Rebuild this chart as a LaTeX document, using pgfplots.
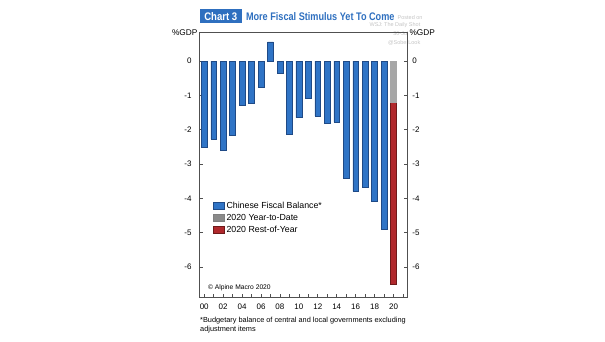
\documentclass[border=0pt]{standalone}
\usepackage{fontspec}
\setmainfont{Liberation Sans}
\usepackage{pgfplots}
\usepackage{pgfplotstable}
\pgfplotsset{compat=1.18}
\definecolor{barblue}{HTML}{2F74C6}
\definecolor{barblueedge}{HTML}{1F4A86}
\definecolor{barred}{HTML}{B0282C}
\definecolor{barrededge}{HTML}{6E1A1A}
\definecolor{bargray}{HTML}{8A8A8A}
\definecolor{ytdgray}{HTML}{A6A6A6}
\definecolor{titleblue}{HTML}{2E6FBF}
\definecolor{axisgray}{HTML}{505050}
\definecolor{wmgray}{HTML}{C4C4C4}

\pgfplotstableread{
year val
0 -2.50
1 -2.27
2 -2.60
3 -2.15
4 -1.29
5 -1.22
6 -0.77
7 0.56
8 -0.35
9 -2.13
10 -1.65
11 -1.07
12 -1.60
13 -1.80
14 -1.77
15 -3.42
16 -3.80
17 -3.69
18 -4.09
19 -4.90
}\fiscalbal

\begin{document}
\begin{tikzpicture}[x=1pt,y=1pt]
\path[use as bounding box] (0,0) rectangle (605,341);
% watermark
\node[anchor=west, inner sep=0, text=wmgray, font=\fontsize{5.5}{6}\selectfont] at (397.5,323.7) {Posted on};
\node[anchor=east, inner sep=0, text=wmgray, font=\fontsize{5.5}{6}\selectfont] at (420.5,316.3) {WSJ: The Daily Shot};
\node[anchor=east, inner sep=0, text=wmgray, font=\fontsize{5.5}{6}\selectfont] at (408.5,307.7) {30-Jul};
\node[anchor=east, inner sep=0, text=wmgray, font=\fontsize{5.5}{6}\selectfont] at (420.5,297.7) {@SoberLook};

\begin{axis}[
  at={(199.5pt,43.3pt)}, anchor=south west,
  width=208.2pt, height=265.7pt, scale only axis,
  xmin=-0.5, xmax=21.5, ymin=-6.9, ymax=0.85,
  axis line style={axisgray, line width=0.8pt},
  tick align=inside,
  xtick={0,2,...,20},
  xticklabels={00,02,04,06,08,10,12,14,16,18,20},
  minor xtick={1,3,...,21},
  xtick pos=lower,
  ytick={-6,-5,...,0},
  ytick pos=both,
  yticklabel pos=left,
  major tick length=3.5pt, minor tick length=3.5pt,
  tick style={axisgray, line width=0.6pt},
  every tick label/.append style={font=\fontsize{8}{9}\selectfont, text=black},
  /pgf/number format/assume math mode=true,
  yticklabel style={xshift=-4.5pt},
  xticklabel style={yshift=-3pt},
  legend image code/.code={\draw[#1] (0pt,-3.8pt) rectangle (11pt,3.8pt);},
  legend style={draw=none, fill=none, at={(0.066,0.362)}, anchor=north west,
    inner sep=0pt, font=\fontsize{8.8}{10}\selectfont,
    nodes={inner xsep=1.7pt, inner ysep=0pt, text height=6.4pt, text depth=1.8pt},
    row sep=3.8pt},
  legend cell align=left,
]
\addlegendimage{fill=barblue, draw=barblueedge, line width=0.4pt}
\addlegendentry{Chinese Fiscal Balance*}
\addlegendimage{fill=bargray, draw=gray, line width=0.4pt}
\addlegendentry{2020 Year-to-Date}
\addlegendimage{fill=barred, draw=barrededge, line width=0.4pt}
\addlegendentry{2020 Rest-of-Year}

\addplot[ybar, bar width=5.8pt, bar shift=0pt, fill=barblue, draw=barblueedge, line width=0.5pt, forget plot]
  table[x=year,y=val]{\fiscalbal};
\addplot[ybar, bar width=5.8pt, bar shift=0pt, fill=barred, draw=barrededge, line width=0.5pt, forget plot]
  coordinates {(20,-6.51)};
\addplot[ybar, bar width=5.8pt, bar shift=0pt, fill=ytdgray, draw=ytdgray, line width=0.5pt, forget plot]
  coordinates {(20,-1.20)};

\node[anchor=west, inner sep=0, font=\fontsize{6.7}{8}\selectfont] at (rel axis cs:0.04,0.037) {\textcopyright{} Alpine Macro 2020};
\end{axis}

\begin{axis}[
  at={(199.5pt,43.3pt)}, anchor=south west,
  width=208.2pt, height=265.7pt, scale only axis,
  xmin=-0.5, xmax=21.5, ymin=-6.9, ymax=0.85,
  hide x axis,
  axis y line*=right,
  y axis line style={draw=none},
  ytick={-6,-5,...,0},
  ytick style={draw=none},
  every tick label/.append style={font=\fontsize{8}{9}\selectfont, text=black},
  /pgf/number format/assume math mode=true,
  yticklabel style={xshift=1.2pt},
]
\addplot[draw=none, mark=none, forget plot] coordinates {(20,0)};
\end{axis}

% %GDP labels
\node[inner sep=0, font=\fontsize{8.3}{9}\selectfont] at (184.8,308.7) {\%GDP};
\node[inner sep=0, font=\fontsize{8.3}{9}\selectfont] at (422.2,308.7) {\%GDP};

% title
\node[fill=titleblue, text=white, inner sep=0, minimum width=41.7pt, minimum height=14.3pt, font=\fontsize{11}{12}\selectfont\bfseries] at (220.8,324.8) {\scalebox{0.87}[1]{Chart 3}};
\node[anchor=west, inner sep=0, text=titleblue, font=\fontsize{11}{12}\selectfont\bfseries] at (245.8,324.8) {\scalebox{0.83}[1]{More Fiscal Stimulus Yet To Come}};

% footnote
\node[anchor=west, inner sep=0, font=\fontsize{7.35}{8}\selectfont] at (200,20.3) {*Budgetary balance of central and local governments excluding};
\node[anchor=west, inner sep=0, font=\fontsize{7.35}{8}\selectfont] at (200,11) {adjustment items};
\end{tikzpicture}
\end{document}
